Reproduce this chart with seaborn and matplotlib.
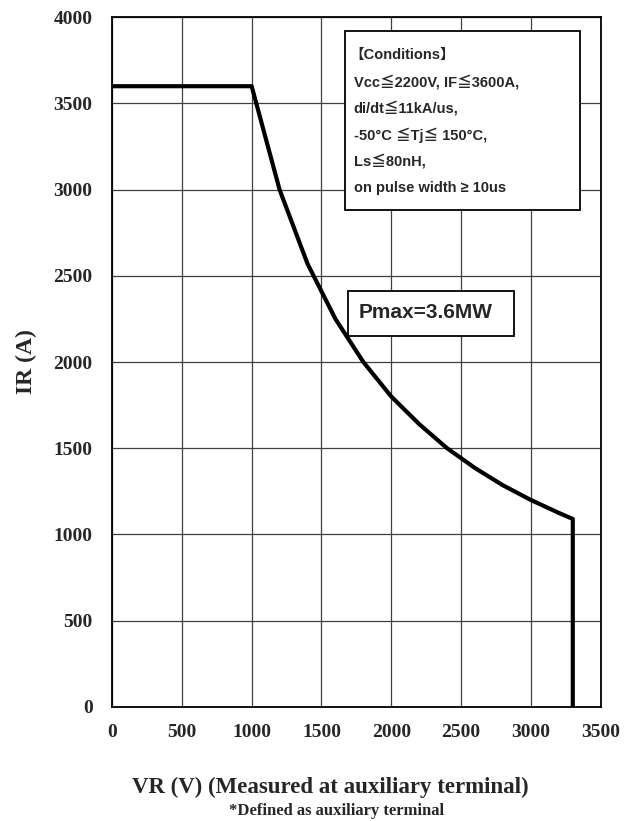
import matplotlib
matplotlib.use("Agg")
import matplotlib.pyplot as plt
import seaborn as sns
import pandas as pd
from matplotlib.patches import Rectangle

# Data
vr_volts = [0, 1000, 1200, 1400, 1600, 1800, 2000, 2200, 2400, 2600, 2800, 3000, 3200, 3300, 3300]
ir_amps = [3600, 3600, 3000, 2570, 2250, 2000, 1800, 1640, 1500, 1385, 1285, 1200, 1125, 1090, 0]
x_ticks = [0, 500, 1000, 1500, 2000, 2500, 3000, 3500]
y_ticks = [0, 500, 1000, 1500, 2000, 2500, 3000, 3500, 4000]
conditions_lines = [
    "【Conditions】",
    "Vcc≦2200V, IF≦3600A,",
    "di/dt≦11kA/us,",
    "-50°C ≦Tj≦ 150°C,",
    "Ls≦80nH,",
    "on pulse width ≥ 10us",
]
pmax_label = "Pmax=3.6MW"

sns.set_theme(style="white")
plt.rcParams["font.family"] = ["Liberation Serif", "DejaVu Serif"]

df = pd.DataFrame({"VR": vr_volts, "IR": ir_amps})

fig = plt.figure(figsize=(6.33, 8.21), dpi=100)
ax = fig.add_axes([0.177, 0.139, 0.772, 0.840])

sns.lineplot(data=df, x="VR", y="IR", sort=False, estimator=None,
             color="black", linewidth=3.0, ax=ax, zorder=5)

ax.set_xlim(0, 3500)
ax.set_ylim(0, 4000)
ax.set_xticks(x_ticks)
ax.set_yticks(y_ticks)
ax.set_xticklabels([str(v) for v in x_ticks], fontsize=14, fontweight="bold")
ax.set_yticklabels([str(v) for v in y_ticks], fontsize=14, fontweight="bold")
ax.tick_params(axis="y", length=0, pad=14)
ax.tick_params(axis="x", length=0, pad=12)
ax.grid(True, color="#404040", linewidth=0.9)
for s in ax.spines.values():
    s.set_color("black")
    s.set_linewidth(1.3)

ax.set_xlabel("")
ax.set_ylabel("IR (A)", fontsize=17, fontweight="bold")
ax.yaxis.set_label_coords(-0.153, 0.5)

fig.text(330 / 633, 1 - 787 / 821, "VR (V) (Measured at auxiliary terminal)",
         ha="center", va="center", fontsize=16.5, fontweight="bold")
fig.text(337 / 633, 1 - 811 / 821, "*Defined as auxiliary terminal",
         ha="center", va="center", fontsize=12, fontweight="bold")

sans = ["Liberation Sans", "Noto Sans CJK JP", "DejaVu Sans"]

# Conditions box
ax.add_patch(Rectangle((1670, 2880), 1680, 1040, facecolor="white",
                       edgecolor="black", linewidth=1.3, zorder=6))
for i, line in enumerate(conditions_lines):
    xo = 1700 if i == 0 else 1730
    ax.text(xo, 3780 - i * 154, line, family=sans, fontsize=10.5,
            fontweight="bold", ha="left", va="center", zorder=7)

# Pmax box
ax.add_patch(Rectangle((1690, 2150), 1190, 260, facecolor="white",
                       edgecolor="black", linewidth=1.3, zorder=6))
ax.text(2245, 2285, pmax_label, family=sans, fontsize=15, fontweight="bold",
        ha="center", va="center", zorder=7)

fig.savefig("out.png", dpi=100)
